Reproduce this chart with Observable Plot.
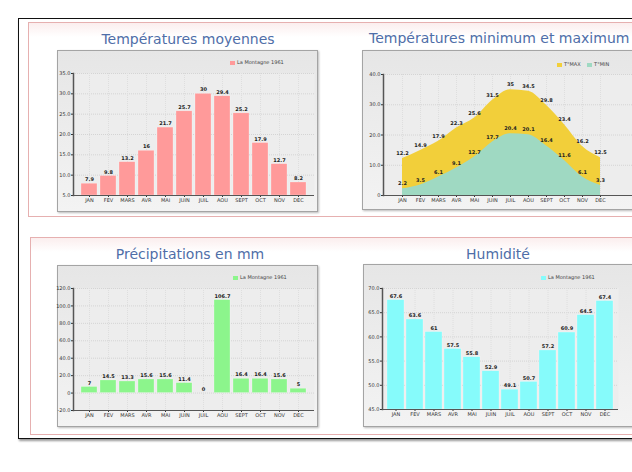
<!DOCTYPE html>
<html><head><meta charset="utf-8">
<script src="https://cdn.jsdelivr.net/npm/d3@7"></script>
<script src="https://cdn.jsdelivr.net/npm/@observablehq/plot@0.6"></script>
<style>
html,body{margin:0;padding:0;}
body{width:632px;height:472px;overflow:hidden;background:#fff;position:relative;font-family:"DejaVu Sans",sans-serif;}
#outer{position:absolute;left:18px;top:18px;width:680px;height:419px;border:1.5px solid #111;box-shadow:1px 2px 2px #999;}
.panel{position:absolute;border:1.5px solid #e6b0b0;background:linear-gradient(#fbeeee 0px,#fff 14px);box-sizing:border-box;}
.title{position:absolute;color:#4f6ea8;font-size:14px;white-space:nowrap;line-height:15px;}
.frame{position:absolute;box-sizing:border-box;border:1.5px solid #a4a4a4;background:linear-gradient(#e6e6e6,#f3f3f3);box-shadow:1px 1px 2px #bbb;}
.chart{position:absolute;overflow:visible;}
.chart svg{max-width:none !important;}
.leg{position:absolute;font-size:5px;color:#444;white-space:nowrap;line-height:6px;}
.leg i{display:inline-block;width:5px;height:4px;margin-right:2px;vertical-align:middle;}
</style></head><body>
<div id="outer"></div>
<div class="panel" style="left:28px;top:22px;width:640px;height:195px;"></div>
<div class="panel" style="left:30px;top:237px;width:640px;height:198px;"></div>

<div class="title" style="left:188px;top:32px;transform:translateX(-50%);">Températures moyennes</div>
<div class="title" style="left:369px;top:31px;">Températures minimum et maximum</div>
<div class="title" style="left:190px;top:247px;transform:translateX(-50%);">Précipitations en mm</div>
<div class="title" style="left:498px;top:247px;transform:translateX(-50%);">Humidité</div>

<div class="frame" style="left:57px;top:50px;width:261px;height:162px;"></div>
<div class="frame" style="left:362px;top:50px;width:300px;height:160px;"></div>
<div class="frame" style="left:57px;top:265px;width:261px;height:162px;"></div>
<div class="frame" style="left:363px;top:264px;width:300px;height:163px;"></div>

<div id="c1" class="chart" style="left:57px;top:50px;width:261px;height:162px;"></div>
<div id="c2" class="chart" style="left:362px;top:50px;width:290px;height:160px;"></div>
<div id="c3" class="chart" style="left:57px;top:265px;width:261px;height:162px;"></div>
<div id="c4" class="chart" style="left:363px;top:264px;width:290px;height:163px;"></div>

<div class="leg" style="left:230px;top:59px;"><i style="background:#ff9a9a"></i>La Montagne 1961</div>
<div class="leg" style="left:557px;top:61px;"><i style="background:#f2cf3a"></i>T°MAX&nbsp;&nbsp;&nbsp;&nbsp;<i style="background:#9fd9c2"></i>T°MIN</div>
<div class="leg" style="left:233px;top:274px;"><i style="background:#8cf58c"></i>La Montagne 1961</div>
<div class="leg" style="left:541px;top:274px;"><i style="background:#86fbfb"></i>La Montagne 1961</div>

<script>
const months = ["JAN","FEV","MARS","AVR","MAI","JUIN","JUIL","AOU","SEPT","OCT","NOV","DEC"];
const tempMoy = [7.9, 9.8, 13.2, 16.0, 21.7, 25.7, 30.0, 29.4, 25.2, 17.9, 12.7, 8.2];
const tempMax = [12.2, 14.9, 17.9, 22.3, 25.6, 31.5, 35.0, 34.5, 29.8, 23.4, 16.2, 12.5];
const tempMin = [2.2, 3.5, 6.1, 9.1, 12.7, 17.7, 20.4, 20.1, 16.4, 11.6, 6.1, 3.3];
const precip = [7, 14.5, 13.3, 15.6, 15.6, 11.4, 0, 106.7, 16.4, 16.4, 15.6, 5];
const humid = [67.6, 63.6, 61.0, 57.5, 55.8, 52.9, 49.1, 50.7, 57.2, 60.9, 64.5, 67.4];
const moyTicks = [5, 10, 15, 20, 25, 30, 35];
const minMaxTicks = [0, 10, 20, 30, 40];
const precipTicks = [-20, 0, 20, 40, 60, 80, 100, 120];
const humidTicks = [45, 50, 55, 60, 65, 70];

const fmt = d => d === 0 ? "0" : d.toFixed(1);
const lab = d => (Math.round(d*10)/10).toString();
const baseStyle = {background:"transparent", fontSize:"5px", fontFamily:"DejaVu Sans, sans-serif", color:"#333", overflow:"visible"};

function bars({el, values, color, domain, ticks, base, width, height, ml, mr, mt, mb, pi, po}) {
  const data = months.map((m,i) => ({m, v: values[i]}));
  const chart = Plot.plot({
    width, height, marginLeft: ml, marginRight: mr, marginTop: mt, marginBottom: mb,
    style: baseStyle,
    x: {domain: months, paddingInner: pi, paddingOuter: po, label: null, tickSize: 2, tickPadding: 1},
    y: {domain, ticks, label: null, tickFormat: fmt, tickSize: 2, tickPadding: 1},
    marks: [
      Plot.frame({fill: "#ededed", stroke: null}),
      Plot.gridY(ticks, {stroke: "#d4d4d4", strokeOpacity: 1, strokeDasharray: "1,1"}),
      Plot.gridX(months, {stroke: "#dedede", strokeOpacity: 1, strokeDasharray: "1,1"}),
      Plot.barY(data, {x: "m", y1: base, y2: "v", fill: color, stroke: "#ffffff", strokeOpacity: 0.5, strokeWidth: 0.5}),
      Plot.text(data, {x: "m", y: "v", text: d => lab(d.v), dy: -4, fontWeight: "bold", fill: "#222", fontSize: 5}),
      Plot.ruleY([domain[0]], {stroke: "#555", strokeWidth: 1.2}),
      Plot.frame({anchor: "left", stroke: "#555", strokeWidth: 1.5})
    ]
  });
  chart.style.maxWidth = "none";
  document.getElementById(el).append(chart);
}

bars({el:"c1", values: tempMoy, color:"#ff9a9a", domain:[5,35], ticks: moyTicks, base:5,
  width:261, height:162, ml:16, mr:4, mt:23, mb:17, pi:0.18, po:0.12});
bars({el:"c3", values: precip, color:"#8cf58c", domain:[-20,120], ticks: precipTicks, base:0,
  width:261, height:162, ml:16, mr:4, mt:23, mb:17, pi:0.18, po:0.12});
bars({el:"c4", values: humid, color:"#86fbfb", domain:[45,70], ticks: humidTicks, base:45,
  width:290, height:163, ml:19, mr:35, mt:24, mb:18, pi:0.13, po:0.05});

// min / max chart
const mm = months.map((m,i) => ({m, max: tempMax[i], min: tempMin[i]}));
const c2 = Plot.plot({
  width: 290, height: 160, marginLeft: 21, marginRight: 0, marginTop: 24, marginBottom: 15,
  style: baseStyle,
  x: {type: "point", domain: months, range: [28, 250], label: null, tickSize: 2, tickPadding: 1},
  y: {domain: [0, 40], ticks: minMaxTicks, label: null, tickFormat: fmt, tickSize: 2, tickPadding: 1},
  marks: [
    Plot.frame({fill: "#ededed", stroke: null}),
    Plot.gridY(minMaxTicks, {stroke: "#d4d4d4", strokeOpacity: 1, strokeDasharray: "1,1"}),
    Plot.gridX(months, {stroke: "#dedede", strokeOpacity: 1, strokeDasharray: "1,1"}),
    Plot.areaY(mm, {x: "m", y: "max", fill: "#f2cf3a", curve: "monotone-x"}),
    Plot.areaY(mm, {x: "m", y: "min", fill: "#9fd9c2", curve: "monotone-x"}),
    Plot.text(mm, {x: "m", y: "max", text: d => lab(d.max), dy: -5, fontWeight: "bold", fill: "#222", fontSize: 5}),
    Plot.text(mm, {x: "m", y: "min", text: d => lab(d.min), dy: -5, fontWeight: "bold", fill: "#222", fontSize: 5}),
    Plot.ruleY([0], {stroke: "#555", strokeWidth: 1.2}),
    Plot.frame({anchor: "left", stroke: "#555", strokeWidth: 1.5})
  ]
});
c2.style.maxWidth = "none";
document.getElementById("c2").append(c2);
</script>
</body></html>
